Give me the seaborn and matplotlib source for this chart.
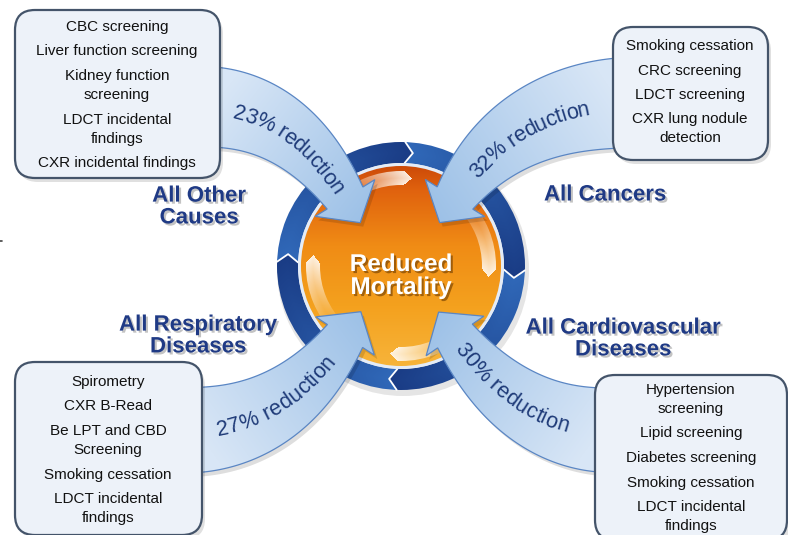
import numpy as np
import matplotlib
matplotlib.use("Agg")
import matplotlib.pyplot as plt
import matplotlib.patheffects as pe
from matplotlib.patches import Polygon, FancyBboxPatch, Circle, Wedge
from matplotlib.colors import to_rgb
from matplotlib.font_manager import FontProperties, findfont, get_font
import seaborn as sns

# Diagram content
causes = ["All Other\nCauses", "All Cancers", "All Respiratory\nDiseases", "All Cardiovascular\nDiseases"]
reductions = [23, 32, 27, 30]
interventions = [
    ["CBC screening", "Liver function screening", "Kidney function\nscreening",
     "LDCT incidental\nfindings", "CXR incidental findings"],
    ["Smoking cessation", "CRC screening", "LDCT screening", "CXR lung nodule\ndetection"],
    ["Spirometry", "CXR B-Read", "Be LPT and CBD\nScreening", "Smoking cessation",
     "LDCT incidental\nfindings"],
    ["Hypertension\nscreening", "Lipid screening", "Diabetes screening", "Smoking cessation",
     "LDCT incidental\nfindings"],
]
center_label = "Reduced\nMortality"

# Layout (pixels, y down)
W, H = 788, 535
cx, cy = 401, 266
boxes = [(15, 10, 205, 168), (613, 27, 155, 133), (15, 362, 187, 173), (595, 375, 192, 165)]
box_text = [(117, 27), (690, 46), (108, 382), (691, 390)]
label_pos = [(199, 207), (605, 195), (198, 336), (623, 339)]
arrows = [
    dict(P0=(212, 107), P1=(292, 112), P2=(345, 198), w0=80, w1=42),
    dict(P0=(620, 103), P1=(510, 110), P2=(455, 198), w0=90, w1=42),
    dict(P0=(196, 430), P1=(287, 425), P2=(345, 336), w0=85, w1=42),
    dict(P0=(601, 430), P1=(516, 425), P2=(455, 336), w0=84, w1=42),
]
text_frac = [0.5, 0.47, 0.45, 0.52]

sns.set_theme(style="white")
plt.rcParams["font.family"] = ["Liberation Sans", "DejaVu Sans"]

fig = plt.figure(figsize=(W / 100, H / 100), dpi=100)
ax = fig.add_axes([0, 0, 1, 1])
ax.axis("off")

yy, xx = np.mgrid[0:H, 0:W] + 0.5


def lerp_img(c0, c1, u, alpha=None):
    c0, c1 = np.array(to_rgb(c0)), np.array(to_rgb(c1))
    img = np.zeros((H, W, 4))
    img[..., :3] = c0 * (1 - u[..., None]) + c1 * u[..., None]
    img[..., 3] = 1.0 if alpha is None else alpha
    return img


def show_clipped(img, patch, z):
    im = ax.imshow(img, extent=(0, W, H, 0), zorder=z, interpolation="bilinear")
    im.set_clip_path(patch)


# ---- centre: light halo, blue segmented ring, orange disk ----
ro, ri = 124, 103
bounds = [-178, -88, 2, 92]
theta = np.degrees(np.arctan2(yy - cy, xx - cx))
rr = np.hypot(xx - cx, yy - cy)


def seg_frac(rm, hw, delta):
    off = delta * np.clip(1 - np.abs(rr - rm) / hw, 0, 1)
    return ((theta - off - bounds[0]) % 90) / 90.0


ax.add_patch(Circle((cx + 2, cy + 4), ro + 2, color="black", alpha=0.10, zorder=0.5, lw=0))
ring = Wedge((cx, cy), ro, 0, 360, width=ro - ri, facecolor="none", edgecolor="none", zorder=1)
ax.add_patch(ring)
fr = seg_frac((ro + ri) / 2, (ro - ri) / 2, 4.0)
show_clipped(lerp_img("#3068b8", "#1a3c85", fr), ring, 1)
for b in bounds:
    rm = (ro + ri) / 2
    pts = [(ro, b), (rm, b + 4.0), (ri, b)]
    ax.plot([cx + r * np.cos(np.radians(a)) for r, a in pts],
            [cy + r * np.sin(np.radians(a)) for r, a in pts], color="white", lw=1.3, zorder=1.5)

ax.add_patch(Circle((cx, cy), ri, color="#e4ecf7", zorder=1.6, lw=0))
disk = Circle((cx, cy), 100, facecolor="none", edgecolor="none", zorder=2)
ax.add_patch(disk)
v = np.clip((yy - (cy - 100)) / 200.0, 0, 1)
stops = [(0.0, "#cc4a08"), (0.12, "#e0620e"), (0.4, "#f08c15"), (0.7, "#f4a11e"), (1.0, "#f7b43a")]
img = np.zeros((H, W, 4))
sv = [s for s, _ in stops]
for k in range(3):
    img[..., k] = np.interp(v, sv, [to_rgb(c)[k] for _, c in stops])
img[..., 3] = 1
show_clipped(img, disk, 2)

# glossy inner highlight pieces
hl = Wedge((cx, cy), 95, 0, 360, width=14, facecolor="none", edgecolor="none", zorder=2.2)
ax.add_patch(hl)
fh = seg_frac(88, 7, 5.0)
alpha = np.clip((fh - 0.45) / 0.55, 0, 1) ** 1.2 * 0.92
show_clipped(lerp_img("#fff3e0", "#fffaf2", fh, alpha), hl, 2.2)

# small mark on the left edge
ax.plot([0, 2.5], [241, 241], color="#444444", lw=1.2, zorder=1)


# ---- curved arrows ----
def bezier(P0, P1, P2, n=200):
    P0, P1, P2 = map(np.array, (P0, P1, P2))
    t = np.linspace(0, 1, n)[:, None]
    pts = (1 - t) ** 2 * P0 + 2 * (1 - t) * t * P1 + t ** 2 * P2
    d = 2 * (1 - t) * (P1 - P0) + 2 * t * (P2 - P1)
    d = d / np.linalg.norm(d, axis=1, keepdims=True)
    return t.ravel(), pts, d


arrow_fs = 15.5
fp_arrow = FontProperties(family="Liberation Sans", size=arrow_fs)
font = get_font(findfont(fp_arrow))
font.set_size(arrow_fs, 72)


def advances(s):
    return np.array([font.load_char(ord(c)).linearHoriAdvance / 65536 * 100 / 72 for c in s])


head_half, head_len = 35, 29
for a, red, f in zip(arrows, reductions, text_frac):
    t, pts, d = bezier(a["P0"], a["P1"], a["P2"])
    nrm = np.column_stack([-d[:, 1], d[:, 0]])
    w = a["w0"] + (a["w1"] - a["w0"]) * t ** 1.5
    side_a = pts + nrm * w[:, None] / 2
    side_b = pts - nrm * w[:, None] / 2
    P2, dE, nE = pts[-1], d[-1], nrm[-1]
    tip = P2 + dE * head_len
    poly = np.vstack([side_a, [P2 + nE * head_half, tip, P2 - nE * head_half], side_b[::-1]])
    ax.add_patch(Polygon(poly + [3, 4], closed=True, color="black", alpha=0.13, lw=0, zorder=2.8))
    patch = Polygon(poly, closed=True, facecolor="none", edgecolor="#5a86c4", lw=0.9, zorder=3.1)
    ax.add_patch(patch)
    vec = tip - pts[0]
    u = np.clip(((xx - pts[0][0]) * vec[0] + (yy - pts[0][1]) * vec[1]) / (vec @ vec), 0, 1)
    show_clipped(lerp_img("#d8e6f6", "#9dc1e7", u), patch, 3)

    # text along the centre line
    path = np.vstack([pts, P2 + dE * head_len * 0.5])
    dirs = np.vstack([d, dE])
    s = np.concatenate([[0], np.cumsum(np.linalg.norm(np.diff(path, axis=0), axis=1))])
    label = f"{red}% reduction"
    adv = advances(label)
    total = adv.sum()
    sc = f * s[-1]
    mid = np.argmin(np.abs(s - sc))
    sign = 1 if dirs[mid][0] >= 0 else -1
    offs = np.cumsum(adv) - adv / 2 - total / 2
    for ch, o in zip(label, offs):
        si = sc + sign * o
        x = np.interp(si, s, path[:, 0])
        y = np.interp(si, s, path[:, 1])
        dx = np.interp(si, s, dirs[:, 0]) * sign
        dy = np.interp(si, s, dirs[:, 1]) * sign
        ang = np.degrees(np.arctan2(-dy, dx))
        ax.text(x, y, ch, rotation=ang, rotation_mode="anchor", ha="center",
                va="center_baseline", fontproperties=fp_arrow, color="#1e3a78", zorder=4)

# ---- boxes with interventions ----
for (bx, by, bw, bh), items, (tx, ty) in zip(boxes, interventions, box_text):
    ax.add_patch(FancyBboxPatch((bx + 3, by + 4), bw, bh, boxstyle="round,pad=0,rounding_size=20",
                                facecolor="black", alpha=0.12, lw=0, zorder=4.5))
    ax.add_patch(FancyBboxPatch((bx, by), bw, bh, boxstyle="round,pad=0,rounding_size=20",
                                facecolor="#edf2f9", edgecolor="#44546a", lw=1.6, zorder=5))
    y = ty
    for item in items:
        for line in item.split("\n"):
            ax.text(tx, y, line, ha="center", va="center", fontsize=11, color="#111111", zorder=6)
            y += 19
        y += 5.5

# ---- category labels ----
for lab, (lx, ly) in zip(causes, label_pos):
    ax.text(lx, ly, lab, ha="center", va="center", fontsize=16, fontweight="bold",
            color="#1f3a85", linespacing=1.05, zorder=7,
            path_effects=[pe.withSimplePatchShadow(offset=(1.5, -1.5), shadow_rgbFace="#7a7a7a", alpha=0.45)])

ax.text(cx, 276, center_label, ha="center", va="center", fontsize=17.5, fontweight="bold",
        color="white", linespacing=1.0, zorder=7,
        path_effects=[pe.withSimplePatchShadow(offset=(1.5, -1.5), shadow_rgbFace="#6b3a00", alpha=0.6)])

ax.set_xlim(0, W)
ax.set_ylim(H, 0)
fig.savefig("out.png", dpi=100, facecolor="white")
